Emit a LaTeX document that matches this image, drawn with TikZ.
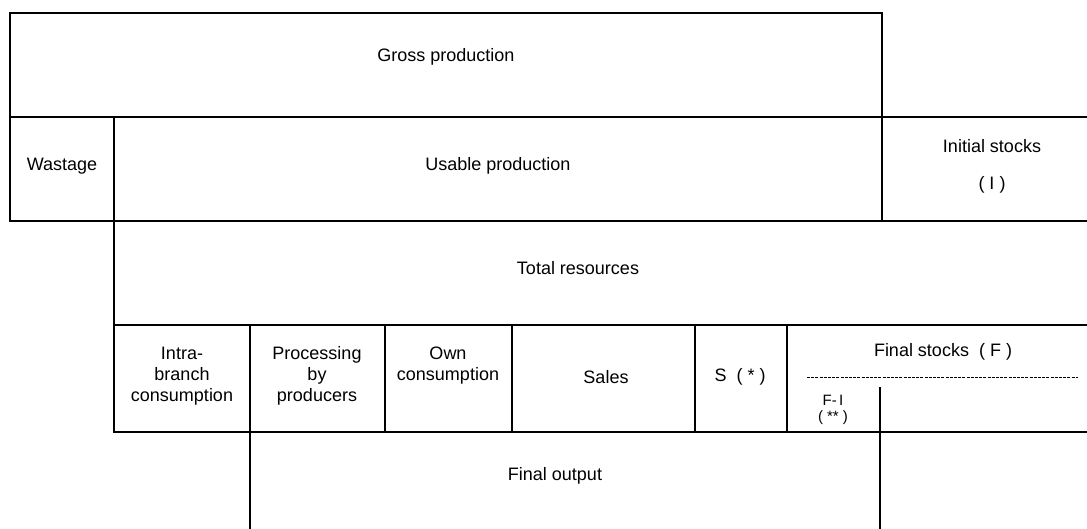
\documentclass[tikz,border=0pt]{standalone}
\usepackage{fontspec}
\setmainfont{Liberation Sans}
\begin{document}
\begin{tikzpicture}[x=1pt,y=-1pt,
  rule/.style={line width=1.6pt,line cap=rect},
  lbl/.style={font=\fontsize{18}{21}\selectfont,align=center,inner sep=0pt},
  small/.style={font=\fontsize{15}{18}\selectfont,align=center,inner sep=0pt}]
\useasboundingbox (0,0) rectangle (1087,528);
% lines
\draw[rule] (10,13) -- (882,13);
\draw[rule] (10,13) -- (10,221);
\draw[rule] (882,13) -- (882,221);
\draw[rule] (10,117) -- (1087,117);
\draw[rule] (10,221) -- (1087,221);
\draw[rule] (114,117) -- (114,432);
\draw[rule] (114,325) -- (1087,325);
\draw[rule] (114,432) -- (1087,432);
\draw[rule] (250,325) -- (250,528);
\draw[rule] (385,325) -- (385,432);
\draw[rule] (512,325) -- (512,432);
\draw[rule] (695,325) -- (695,432);
\draw[rule] (787,325) -- (787,432);
\draw[rule] (880,388) -- (880,528);
\draw[line width=0.9pt,dash pattern=on 3pt off 1.2pt] (807,377) -- (1078,377);
% labels
\node[lbl] (gross) at (446,57) {Gross production};
\node[lbl] (waste) at (62,166) {Wastage};
\node[lbl] (usable) at (498,166) {Usable production};
\node[lbl] (init) at (992,146) {Initial stocks};
\node[lbl] (initI) at (992,185) {( I )};
\node[lbl] (total) at (578,268) {Total resources};
\node[lbl] (intra) at (182,376) {Intra-\\branch\\consumption};
\node[lbl] (proc) at (317,376) {Processing\\by\\producers};
\node[lbl] (own) at (448,366) {Own\\consumption};
\node[lbl] (sales) at (606,377) {Sales};
\node[lbl] (s) at (740,377) {S\ \ ( * )};
\node[lbl] (final) at (943,352) {Final stocks\ \ ( F )};
\node[small] (fi) at (833,400) {F-\,I};
\node[small] (fist) at (833,418) {( ** )};
\node[lbl] (out) at (555,476) {Final output};
\end{tikzpicture}
\end{document}
